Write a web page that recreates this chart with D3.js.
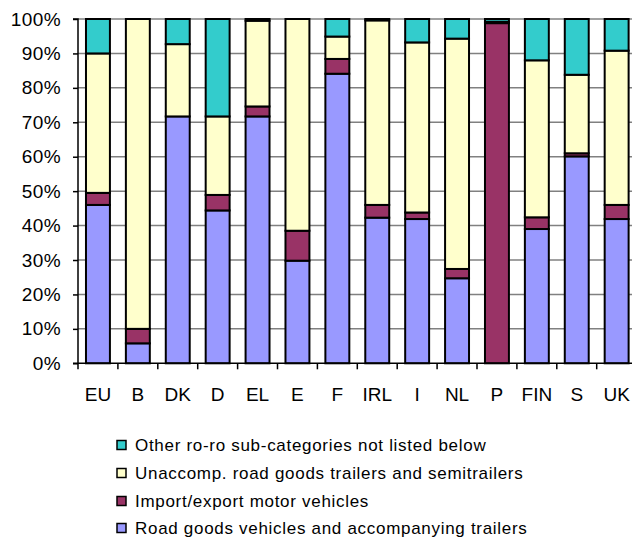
<!DOCTYPE html>
<html><head><meta charset="utf-8">
<script src="https://cdn.jsdelivr.net/npm/d3@7"></script>
<style>body{margin:0;background:#fff;} svg{display:block;}</style>
</head><body>
<svg id="c" width="632" height="540"></svg>
<script>
const categories = ["EU","B","DK","D","EL","E","F","IRL","I","NL","P","FIN","S","UK"];
const roadGoods   = [46.0, 5.8, 71.7, 44.4, 71.7, 29.8, 84.1, 42.3, 41.9, 24.7, 0.0, 39.0, 60.1, 41.9];
const importExport= [ 3.5, 4.2,  0.0,  4.5,  2.9,  8.7,  4.3,  3.7,  1.9,  2.7, 98.8, 3.4, 0.9, 4.1];
const unaccomp    = [40.5,90.0, 21.0, 22.8, 24.9, 61.5,  6.5, 53.6, 49.4, 66.9,  0.4, 45.6, 22.8, 44.8];
const otherRoro   = [10.0, 0.0,  7.3, 28.3,  0.5,  0.0,  5.1,  0.4,  6.8,  5.7,  0.8, 12.0, 16.2, 9.2];
const yTicks = [0,10,20,30,40,50,60,70,80,90,100];
const seriesNames = ["Road goods vehicles and accompanying trailers","Import/export motor vehicles","Unaccomp. road goods trailers and semitrailers","Other ro-ro sub-categories not listed below"];
const seriesColors = ["#9999FF","#993366","#FFFFCC","#33CCCC"];

(function(){
const svg = d3.select("#c");
const font = "'Liberation Sans', Arial, sans-serif";
const pLeft = 78, pRight = 636.6, pTop = 19, pBottom = 363.3;

const x = d3.scaleBand().domain(categories).range([pLeft, pRight]).padding(0);
const y = d3.scaleLinear().domain([0,100]).range([pBottom, pTop]);

// gridlines
svg.append("g").selectAll("line").data(yTicks.filter(d=>d>0)).join("line")
  .attr("x1", pLeft).attr("x2", 632).attr("y1", d=>y(d)).attr("y2", d=>y(d))
  .attr("stroke", "#808080").attr("stroke-width", 1.5);

// stacked data
const table = categories.map((c,i)=>({cat:c, s0:roadGoods[i], s1:importExport[i], s2:unaccomp[i], s3:otherRoro[i]}));
const stack = d3.stack().keys(["s0","s1","s2","s3"])(table);
const step = x.step(), bw = step*0.6;

stack.forEach((layer, li) => {
  svg.append("g").selectAll("rect").data(layer.filter(d => d[1]-d[0] > 0)).join("rect")
    .attr("x", d => x(d.data.cat) + (step-bw)/2)
    .attr("width", bw)
    .attr("y", d => y(d[1]))
    .attr("height", d => y(d[0]) - y(d[1]))
    .attr("fill", seriesColors[li])
    .attr("stroke", "#000").attr("stroke-width", 2);
});

// y axis
const yAxis = d3.axisLeft(y).tickValues(yTicks).tickFormat(d=>d+"%").tickSize(5).tickPadding(12);
const gy = svg.append("g").attr("transform", `translate(${pLeft},0)`).call(yAxis);
gy.select(".domain").attr("stroke","#000").attr("stroke-width",1.5).attr("d", `M-5,${pTop}H0V${pBottom}H-5`);
gy.selectAll(".tick line").attr("stroke","#000").attr("stroke-width",1.5);
gy.selectAll("text").attr("font-family", font).attr("font-size", 19).attr("letter-spacing", "0.4px").attr("fill","#000");

// x axis
const gx = svg.append("g").attr("transform", `translate(0,${pBottom})`);
gx.append("line").attr("x1", pLeft).attr("x2", 632).attr("stroke","#000").attr("stroke-width",1.5);
gx.selectAll("line.t").data(d3.range(categories.length+1)).join("line").attr("class","t")
  .attr("x1", i => pLeft + i*step).attr("x2", i => pLeft + i*step)
  .attr("y1", 0).attr("y2", 6).attr("stroke","#000").attr("stroke-width",1.5);
gx.selectAll("text").data(categories).join("text")
  .attr("x", d => x(d) + step/2).attr("y", 38)
  .attr("text-anchor","middle").attr("font-family", font).attr("font-size", 19).attr("fill","#000")
  .text(d=>d);

// legend (reverse order: top is Other)
const legendOrder = [3,2,1,0];
const legendY = [445, 473, 501, 528];
const lg = svg.append("g");
legendOrder.forEach((si, k) => {
  lg.append("rect").attr("x", 117).attr("y", legendY[k]-4.5).attr("width", 9).attr("height", 9)
    .attr("fill", seriesColors[si]).attr("stroke","#000").attr("stroke-width",1.5);
  lg.append("text").attr("x", 135).attr("y", legendY[k]).attr("dy","0.36em")
    .attr("font-family", font).attr("font-size", 17).attr("letter-spacing","0.7px")
    .attr("fill","#000").text(seriesNames[si]);
});
})();
</script>
</body></html>
